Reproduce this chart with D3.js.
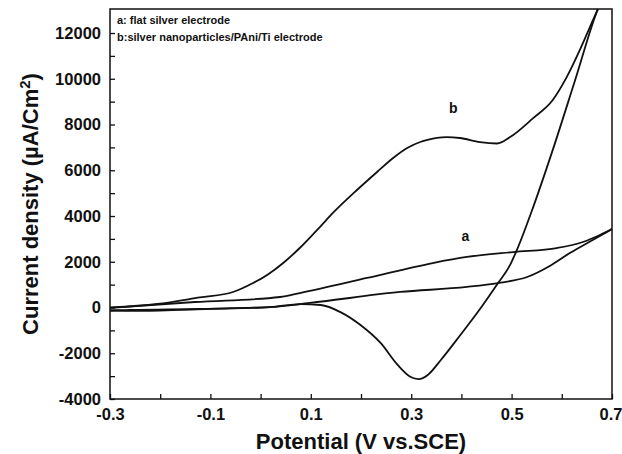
<!DOCTYPE html>
<html><head><meta charset="utf-8">
<script src="https://cdn.jsdelivr.net/npm/d3@7/dist/d3.min.js"></script>
<style>
body{margin:0;background:#fff;}
text{font-family:"Liberation Sans",Arial,Helvetica,sans-serif;font-weight:bold;fill:#111;}
</style></head>
<body><svg id="c" width="622" height="454"></svg>
<script>
// Curve b (silver nanoparticles/PAni/Ti): anodic (forward) branch
const bFwdV = [-0.3,-0.206,-0.121,-0.055,-0.015,0.013,0.045,0.078,0.118,0.144,0.192,0.232,0.264,0.292,0.318,0.331,0.351,0.371,0.397,0.437,0.471,0.497,0.543,0.582,0.610,0.636,0.656,0.672,0.7];
const bFwdI = [0,153,440,678,1071,1421,1946,2601,3519,4132,5137,5924,6536,6973,7236,7320,7420,7450,7410,7230,7170,7450,8280,9070,10080,11260,12260,13050,14300];
// Curve b: cathodic (reverse) branch
const bRevV = [0.7,0.672,0.626,0.582,0.543,0.511,0.497,0.471,0.437,0.398,0.359,0.333,0.315,0.299,0.273,0.239,0.199,0.159,0.120,0.080,0.019,-0.1,-0.24,-0.3];
const bRevI = [14300,13050,9900,6890,4390,2540,1860,1010,-65,-1200,-2295,-2950,-3130,-3040,-2510,-1550,-765,-200,110,150,20,-60,-150,-120];
// Curve a (flat silver electrode): forward branch
const aFwdV = [-0.3,-0.131,0.039,0.078,0.212,0.343,0.411,0.503,0.590,0.642,0.676,0.7];
const aFwdI = [-20,240,460,630,1290,1945,2210,2425,2600,2864,3170,3430];
// Curve a: reverse branch
const aRevV = [0.7,0.659,0.616,0.576,0.531,0.473,0.411,0.278,0.098,0.019,-0.121,-0.26,-0.3];
const aRevI = [3430,2920,2380,1815,1333,1070,900,680,200,20,-65,-110,-150];

const xMajor = [-0.3,-0.1,0.1,0.3,0.5,0.7];
const xMinor = [-0.2,0,0.2,0.4,0.6];
const yMajor = [-4000,-2000,0,2000,4000,6000,8000,10000,12000];
const yMinor = [-3000,-1000,1000,3000,5000,7000,9000,11000];
const legendLines = ["a: flat silver electrode","b:silver nanoparticles/PAni/Ti electrode"];

const svg = d3.select("#c");
const L=110,R=612,T=9,B=399;
const x = d3.scaleLinear().domain([-0.3,0.7]).range([L,R]);
const y = d3.scaleLinear().domain([-4000,13050]).range([B,T]);

svg.append("defs").append("clipPath").attr("id","clip")
  .append("rect").attr("x",L).attr("y",T).attr("width",R-L).attr("height",B-T);

const line = d3.line().x(d=>x(d[0])).y(d=>y(d[1])).curve(d3.curveMonotoneX);
const g = svg.append("g").attr("clip-path","url(#clip)");
function branch(vs,is){
  const pts = vs.map((v,i)=>[v,is[i]]).sort((p,q)=>p[0]-q[0]);
  g.append("path").attr("d",line(pts))
   .attr("fill","none").attr("stroke","#111").attr("stroke-width",1.8).attr("stroke-linejoin","round");
}
branch(aFwdV,aFwdI); branch(aRevV,aRevI);
branch(bFwdV,bFwdI); branch(bRevV,bRevI);

// frame
svg.append("rect").attr("x",L).attr("y",T).attr("width",R-L).attr("height",B-T)
  .attr("fill","none").attr("stroke","#111").attr("stroke-width",1.5);

const fmtX = d => d3.format(".1f")(d).replace("−","-");
const fmtY = d => String(d);
// axes (inward ticks)
const xAx = svg.append("g").attr("transform",`translate(0,${B})`)
  .call(d3.axisBottom(x).tickValues(xMajor).tickSizeInner(-5).tickSizeOuter(0).tickPadding(10).tickFormat(fmtX));
svg.append("g").attr("transform",`translate(0,${B})`)
  .call(d3.axisBottom(x).tickValues(xMinor).tickSizeInner(-5).tickSizeOuter(0).tickFormat(""));
const yAx = svg.append("g").attr("transform",`translate(${L},0)`)
  .call(d3.axisLeft(y).tickValues(yMajor).tickSizeInner(-5).tickSizeOuter(0).tickPadding(9).tickFormat(fmtY));
svg.append("g").attr("transform",`translate(${L},0)`)
  .call(d3.axisLeft(y).tickValues(yMinor).tickSizeInner(-5).tickSizeOuter(0).tickFormat(""));
svg.selectAll(".domain").remove();
svg.selectAll(".tick line").attr("stroke","#111").attr("stroke-width",1.3);
xAx.selectAll("text").attr("font-size",16.5).attr("fill","#111").attr("font-family","Liberation Sans, Arial").attr("font-weight","bold").attr("dy","0.71em").attr("y",9);
xAx.selectAll(".tick:last-of-type text").attr("text-anchor","end").attr("dx",10);
yAx.selectAll("text").attr("font-size",16.5).attr("fill","#111").attr("font-family","Liberation Sans, Arial").attr("font-weight","bold");

// legend
legendLines.forEach((t,i)=>{
  svg.append("text").attr("x",117).attr("y",24+i*17).attr("font-size",11).text(t);
});
// curve labels
svg.append("text").attr("x",x(0.384)).attr("y",y(8500)).attr("text-anchor","middle").attr("font-size",14).text("b");
svg.append("text").attr("x",x(0.408)).attr("y",y(2900)).attr("text-anchor","middle").attr("font-size",14).text("a");

// axis titles
svg.append("text").attr("x",(L+R)/2).attr("y",449).attr("text-anchor","middle").attr("font-size",22).text("Potential (V vs.SCE)");
const yt = svg.append("text").attr("transform",`translate(38,${(T+B)/2}) rotate(-90)`).attr("text-anchor","middle").attr("font-size",22);
yt.append("tspan").text("Current density (µA/Cm");
yt.append("tspan").attr("dy",-8).attr("font-size",15).text("2");
yt.append("tspan").attr("dy",8).text(")");
</script></body></html>
